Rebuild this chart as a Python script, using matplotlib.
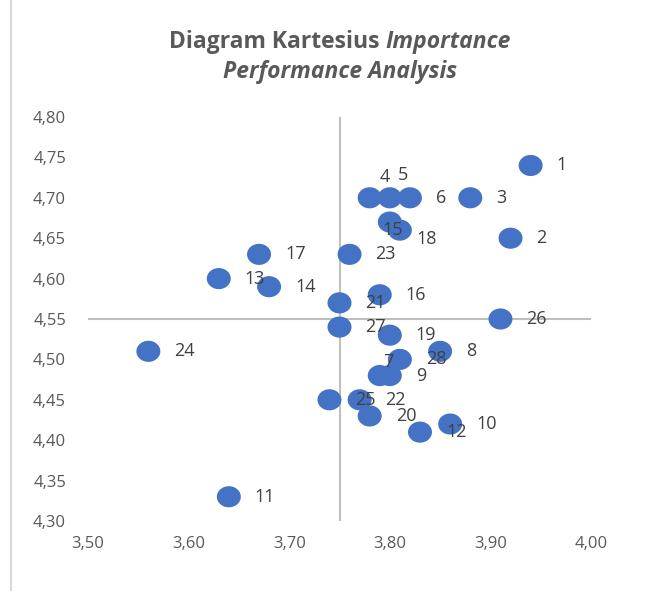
import matplotlib
matplotlib.use("Agg")
import matplotlib.pyplot as plt
import numpy as np
from matplotlib.path import Path
from matplotlib.lines import Line2D

# attribute numbers with performance (x) and importance (y) scores
labels = [str(i) for i in range(1, 29)]
performance = [3.94, 3.92, 3.88, 3.78, 3.80, 3.82, 3.79, 3.85, 3.80, 3.86,
               3.64, 3.83, 3.63, 3.68, 3.80, 3.79, 3.67, 3.81, 3.80, 3.78,
               3.75, 3.77, 3.76, 3.56, 3.74, 3.91, 3.75, 3.81]
importance = [4.74, 4.65, 4.70, 4.70, 4.70, 4.70, 4.48, 4.51, 4.48, 4.42,
              4.33, 4.41, 4.60, 4.59, 4.67, 4.58, 4.63, 4.66, 4.53, 4.43,
              4.57, 4.45, 4.63, 4.51, 4.45, 4.55, 4.54, 4.50]
mean_performance = 3.75
mean_importance = 4.55
x_ticks = [3.50, 3.60, 3.70, 3.80, 3.90, 4.00]
y_ticks = [4.30, 4.35, 4.40, 4.45, 4.50, 4.55, 4.60, 4.65, 4.70, 4.75, 4.80]

# label placement tweaks (pixels, +y is down), default is to the right
label_moves = {
    "4": (15, -21, "center"),
    "5": (13, -23, "center"),
    "15": (3, 8, "center"),
    "18": (17, 9, "left"),
    "7": (9, -14, "center"),
}

blue = "#4472C4"
grid_grey = "#BFBFBF"
tick_grey = "#595959"
label_grey = "#404040"
font = "Open Sans"
px = 72 / 100  # points per pixel

fig = plt.figure(figsize=(6.55, 5.91), dpi=100)
ax = fig.add_axes([88 / 655, 1 - 521 / 591, 503 / 655, 404 / 591])

# slightly wide ellipse marker like the stretched screenshot
t = np.linspace(0, 2 * np.pi, 60)
ellipse = Path(np.column_stack([np.cos(t), 0.88 * np.sin(t)]), closed=True)

ax.axhline(mean_importance, color=grid_grey, lw=1.5, zorder=1)
ax.axvline(mean_performance, color=grid_grey, lw=1.5, zorder=1)
ax.scatter(performance, importance, s=(24 * px) ** 2, marker=ellipse,
           color=blue, edgecolors="none", zorder=3)

for lab, x, y in zip(labels, performance, importance):
    dx, dy, ha = label_moves.get(lab, (26, 0, "left"))
    ax.annotate(lab, (x, y), xytext=(dx * px, -dy * px),
                textcoords="offset points", ha=ha, va="center",
                fontsize=13, color=label_grey, family=font, zorder=4)

ax.set_xlim(x_ticks[0], x_ticks[-1])
ax.set_ylim(y_ticks[0], y_ticks[-1])
ax.set_xticks(x_ticks)
ax.set_yticks(y_ticks)
ax.set_xticklabels([f"{v:.2f}".replace(".", ",") for v in x_ticks])
ax.set_yticklabels([f"{v:.2f}".replace(".", ",") for v in y_ticks])
ax.tick_params(length=0, colors=tick_grey, labelsize=12)
ax.tick_params(axis="x", pad=11)
ax.tick_params(axis="y", pad=22 * px)
for lbl in ax.get_xticklabels() + ax.get_yticklabels():
    lbl.set_family(font)
for sp in ax.spines.values():
    sp.set_visible(False)

# left edge of the chart frame
fig.add_artist(Line2D([11 / 655, 11 / 655], [0, 1], color="#D9D9D9", lw=1.5,
                      transform=fig.transFigure))

# two-line title with the italic part
renderer = fig.canvas.get_renderer()
tsize = 16.5
cx = 340 / 655
y1 = 1 - 42 / 591
y2 = 1 - 72 / 591
part_a = fig.text(0, y1, "Diagram Kartesius ", fontsize=tsize, weight="bold",
                  color=tick_grey, family=font, va="center")
part_b = fig.text(0, y1, "Importance", fontsize=tsize, weight="bold",
                  style="italic", color=tick_grey, family=font, va="center")
wa = part_a.get_window_extent(renderer).width / fig.bbox.width
wb = part_b.get_window_extent(renderer).width / fig.bbox.width
part_a.set_x(cx - (wa + wb) / 2)
part_b.set_x(cx - (wa + wb) / 2 + wa)
fig.text(cx, y2, "Performance Analysis", fontsize=tsize, weight="bold",
         style="italic", color=tick_grey, family=font, ha="center", va="center")

fig.savefig("out.png", dpi=100)
